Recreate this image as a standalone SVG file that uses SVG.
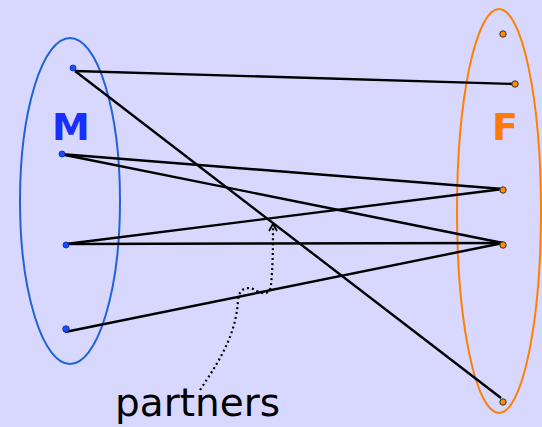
<svg xmlns="http://www.w3.org/2000/svg" width="542" height="427" viewBox="0 0 542 427">
<defs>
<style>
.edge{stroke:#000;stroke-width:2.4;fill:none}
.m{fill:#1a4dff;stroke:#0a2a99;stroke-width:0.8}
.f{fill:#ff8a00;stroke:#333;stroke-width:1}
.lbl{font-family:"Comic Sans MS","DejaVu Sans",sans-serif}
</style>
<marker id="ah" viewBox="0 0 10 10" refX="9" refY="5" markerWidth="10" markerHeight="10" markerUnits="userSpaceOnUse" orient="auto">
<path d="M2,1 L9,5 L2,9" fill="none" stroke="#000" stroke-width="1.8"/>
</marker>
</defs>
<rect width="542" height="427" fill="#d8d8fe"/>
<g id="setM">
<ellipse cx="70" cy="201" rx="50" ry="163" fill="none" stroke="#1e63d8" stroke-width="2"/>
<text x="52" y="140" class="lbl" font-size="38" font-weight="bold" fill="#1a2eff">M</text>
</g>
<g id="setF">
<ellipse cx="499" cy="211" rx="42" ry="202" fill="none" stroke="#ff8000" stroke-width="2"/>
<text x="492" y="140" class="lbl" font-size="38" font-weight="bold" fill="#ff7a00">F</text>
</g>
<g id="connectors">
<line class="edge" x1="75" y1="71" x2="515" y2="84"/>
<line class="edge" x1="75" y1="71" x2="501" y2="398"/>
<line class="edge" x1="60" y1="154" x2="503" y2="189"/>
<line class="edge" x1="60" y1="154" x2="503" y2="243"/>
<line class="edge" x1="66" y1="244" x2="503" y2="189"/>
<line class="edge" x1="66" y1="244" x2="503" y2="243"/>
<line class="edge" x1="65" y1="332" x2="503" y2="243"/>
<path d="M200,390 C220,360 236,335 238,300 C239,288 248,286 255,290 C262,294 270,296 271,285 C273,265 273,245 273,224" fill="none" stroke="#000" stroke-width="2.2" stroke-dasharray="2,3" marker-end="url(#ah)"/>
</g>
<g id="nodesM">
<circle class="m" cx="73" cy="68" r="3"/>
<circle class="m" cx="62" cy="154" r="3"/>
<circle class="m" cx="66" cy="245" r="3"/>
<circle class="m" cx="66" cy="329" r="3.3"/>
</g>
<g id="nodesF">
<circle class="f" cx="503" cy="34" r="3.2"/>
<circle class="f" cx="515" cy="84" r="3.2"/>
<circle class="f" cx="503" cy="190" r="3.2"/>
<circle class="f" cx="503" cy="245" r="3.2"/>
<circle class="f" cx="503" cy="402" r="3.2"/>
</g>
<g id="label">
<text x="115" y="416" class="lbl" font-size="39" fill="#000">partners</text>
</g>
</svg>
